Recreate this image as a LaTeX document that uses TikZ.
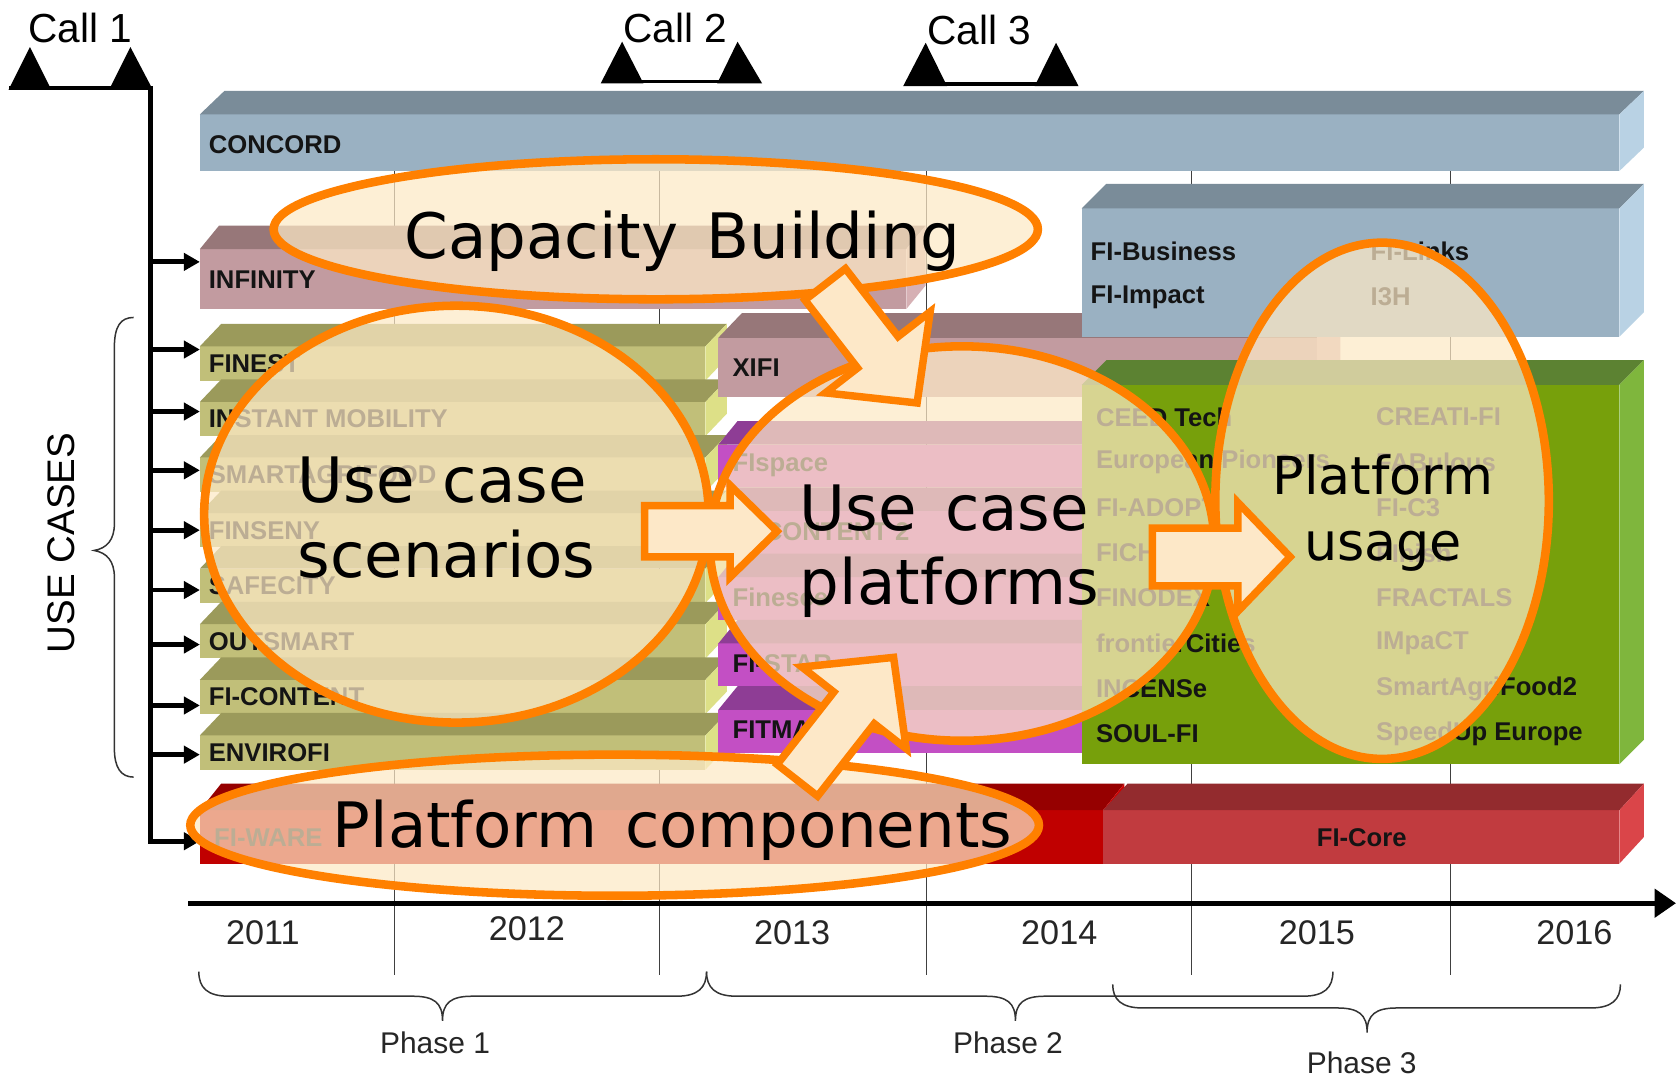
\documentclass[tikz,border=0pt]{standalone}
\usepackage{fontspec}
\setmainfont{Liberation Sans}
\newfontfamily\bigfont{DejaVu Sans}
\usetikzlibrary{calc,arrows.meta}
\definecolor{orng}{RGB}{255,128,0}
\definecolor{cream}{RGB}{253,233,198}
\definecolor{arrfill}{RGB}{253,232,200}
\definecolor{labc}{RGB}{20,20,20}
\definecolor{bluF}{RGB}{154,177,194}
\definecolor{bluT}{RGB}{122,140,153}
\definecolor{bluS}{RGB}{185,210,228}
\definecolor{mauF}{RGB}{194,155,160}
\definecolor{mauT}{RGB}{151,119,121}
\definecolor{mauS}{RGB}{214,176,180}
\definecolor{olvF}{RGB}{193,191,121}
\definecolor{olvT}{RGB}{155,154,91}
\definecolor{olvS}{RGB}{221,224,135}
\definecolor{magF}{RGB}{195,79,196}
\definecolor{magT}{RGB}{142,61,149}
\definecolor{magS}{RGB}{208,112,208}
\definecolor{grnF}{RGB}{119,160,11}
\definecolor{grnT}{RGB}{92,130,50}
\definecolor{grnS}{RGB}{127,182,61}
\definecolor{redF}{RGB}{192,0,0}
\definecolor{redT}{RGB}{150,0,0}
\definecolor{redS}{RGB}{208,0,0}
\definecolor{corF}{RGB}{193,59,63}
\definecolor{corT}{RGB}{147,43,46}
\definecolor{corS}{RGB}{218,69,73}
\newcommand\wsp{\spaceskip=0.45em\relax}
% 3D bar: x1, y1 (top of front), x2, y2 (bottom of front), dx, dy, front, top, side
\newcommand\tdbar[9]{%
  \fill[#7] (#1,#2) rectangle (#3,#4);
  \fill[#8] (#1,#2) -- (#1+#5,#2-#6) -- (#3+#5,#2-#6) -- (#3,#2) -- cycle;
  \fill[#9] (#3,#2) -- (#3+#5,#2-#6) -- (#3+#5,#4-#6) -- (#3,#4) -- cycle;}
% block arrow: tail, tip, shaft half width, head half width, head length
\newcommand\blk[5]{%
  \coordinate (bkB) at ($(#2)!#5!(#1)$);
  \draw[blockarr] ($(#1)!#3!90:(#2)$) -- ($(bkB)!#3!90:(#2)$) -- ($(bkB)!#4!90:(#2)$)
    -- (#2) -- ($(bkB)!#4!-90:(#2)$) -- ($(bkB)!#3!-90:(#2)$) -- ($(#1)!#3!-90:(#2)$) -- cycle;}
% horizontal brace: x1, x2, xtip, ytop, ybody, ytip
\newcommand\hbr[6]{%
  \draw[bracel] (#1,#4) .. controls (#1,#5-8) and (#1+8,#5) .. (#1+28,#5) -- (#3-28,#5)
    .. controls (#3-8,#5) and (#3,#5+6) .. (#3,#6)
    .. controls (#3,#5+6) and (#3+8,#5) .. (#3+28,#5) -- (#2-28,#5)
    .. controls (#2-8,#5) and (#2,#5-8) .. (#2,#4);}
\begin{document}
\begin{tikzpicture}[x=0.5pt,y=-0.5pt,
  lab/.style={font=\fontsize{12}{14}\selectfont\bfseries, text=labc, anchor=west, inner sep=0pt},
  big/.style={font=\bigfont\fontsize{29.3}{35}\selectfont, anchor=base west, inner sep=0pt},
  bigs/.style={font=\bigfont\fontsize{24.5}{30}\selectfont, anchor=base, inner sep=0pt},
  callf/.style={font=\fontsize{19}{19}\selectfont, anchor=base, inner sep=0pt},
  yearf/.style={font=\fontsize{16}{16}\selectfont, anchor=base, inner sep=0pt, text=black!85},
  phasef/.style={font=\fontsize{14}{14}\selectfont, anchor=base, inner sep=0pt, text=black!85},
  gridl/.style={draw=black!75, line width=0.6pt},
  bracel/.style={draw=black!80, line width=0.7pt},
  ovalfill/.style={fill=cream, fill opacity=0.72},
  ovalline/.style={draw=orng, line width=4pt},
  blockarr/.style={draw=orng, line width=3.5pt, fill=arrfill, line join=miter, miter limit=10},
  feed/.style={-{Triangle[length=7.5pt,width=8pt]}, line width=2.3pt, line join=miter},
  axisl/.style={-{Triangle[length=10pt,width=13pt]}, line width=2.5pt}]
\useasboundingbox (0,0) rectangle (1568,1008);
\fill[white] (0,0) rectangle (1568,1008);

% grid lines
\foreach \gx in {369,617,867,1115,1357} \draw[gridl] (\gx,160) -- (\gx,912);

% bars
\tdbar{187}{107}{1515}{160}{23}{22}{bluF}{bluT}{bluS}
\node[lab] (concord) at (195,135) {CONCORD};
\tdbar{187}{233}{848}{289}{18}{22}{mauF}{mauT}{mauS}
\node[lab] (infinity) at (195,262) {INFINITY};
\foreach \nm [count=\i from 0] in {FINEST,INSTANT MOBILITY,SMARTAGRIFOOD,FINSENY,SAFECITY,OUTSMART,FI-CONTENT,ENVIROFI}{
  \pgfmathsetmacro\ya{324+52*\i}
  \pgfmathsetmacro\yb{356+52*\i}
  \pgfmathsetmacro\yc{340+52*\i}
  \tdbar{187}{\ya}{660}{\yb}{20}{21}{olvF}{olvT}{olvS}
  \node[lab] (uc\i) at (195,\yc) {\nm};
}
\tdbar{672}{316}{1232}{371}{22}{23}{mauF}{mauT}{mauS}
\node[lab] (xifi) at (685,344) {XIFI};
\foreach \nm [count=\i from 0] in {FIspace,FI-CONTENT 2,Finesce,FI-STAR,FITMAN}{
  \pgfmathsetmacro\ya{416+62*\i}
  \pgfmathsetmacro\yb{456+62*\i}
  \pgfmathsetmacro\yc{435+62*\i}
  \tdbar{672}{\ya}{1030}{\yb}{18}{22}{magF}{magT}{magS}
  \node[lab] (pf\i) at (685,\yc) {\nm};
}
\tdbar{1012}{195}{1515}{315}{23}{23}{bluF}{bluT}{bluS}
\node[lab] (fibus) at (1020,235) {FI-Business};
\node[lab] (filinks) at (1282,235) {FI-Links};
\node[lab] (fiimp) at (1020,278) {FI-Impact};
\node[lab] (ithreeh) at (1282,278) {I3H};
\tdbar{1012}{360}{1515}{715}{23}{23}{grnF}{grnT}{grnS}
\foreach \a/\b [count=\i from 0] in {CEED Tech/CREATI-FI,European Pioneers/FABulous,FI-ADOPT/FI-C3,FICHe/FInish,FINODEX/FRACTALS,frontierCities/IMpaCT,INCENSe/SmartAgriFood2,SOUL-FI/SpeedUp Europe}{
  \pgfmathsetmacro\yc{390+42.4*\i}
  \node[lab] (gl\i) at (1025,\yc) {\a};
  \node[lab] (gr\i) at (1287,\yc) {\b};
}
\tdbar{187}{758}{1032}{808}{20}{25}{redF}{redT}{redS}
\node[lab] (fiware) at (200,784) {FI-WARE};
\tdbar{1032}{758}{1515}{808}{23}{25}{corF}{corT}{corS}
\node[lab, anchor=center] (ficore) at (1274,784) {FI-Core};

% axis, years, phases
\coordinate (ax0) at (176,845);
\coordinate (ax1) at (1568,845);
\draw[axisl] (ax0) -- (ax1);
\node[yearf] (y11) at (246,884) {2011};
\node[yearf] (y12) at (493,880) {2012};
\node[yearf] (y13) at (741,884) {2013};
\node[yearf] (y14) at (991,884) {2014};
\node[yearf] (y15) at (1232,884) {2015};
\node[yearf] (y16) at (1473,884) {2016};
\hbr{186}{661}{414}{909}{932}{955}
\hbr{661}{1247}{950}{909}{932}{955}
\hbr{1041}{1516}{1279}{921}{943}{966}
\node[phasef] (ph1) at (407,986) {Phase 1};
\node[phasef] (ph2) at (943,986) {Phase 2};
\node[phasef] (ph3) at (1274,1004) {Phase 3};

% calls
\node[callf] (call1) at (75,40) {Call 1};
\node[callf] (call2) at (632,40) {Call 2};
\node[callf] (call3) at (916,42) {Call 3};
\fill (8,84) -- (28,44) -- (48,84) -- cycle;
\fill (102,84) -- (122,44) -- (143,84) -- cycle;
\fill (8,80.5) rectangle (143,84);
\fill (562,78) -- (582,39) -- (602,78) -- cycle;
\fill (671,78) -- (690,39) -- (713,78) -- cycle;
\fill (582,74.5) rectangle (690,78);
\fill (845,80.5) -- (866,40) -- (886,80.5) -- cycle;
\fill (968,80.5) -- (988,40) -- (1009,80.5) -- cycle;
\fill (866,76.5) rectangle (988,80.5);

% bus and feeds
\coordinate (bus) at (140.5,80.5);
\foreach \yy [count=\i] in {245,327,385,440,496,552,603,660,706}{
  \coordinate (fd\i) at (187,\yy);
  \draw[feed] (bus|-fd\i) -- (fd\i);
}
\coordinate (fdw) at (187,787);
\draw[feed] (bus) -- (bus|-fdw) -- (fdw);

% use cases brace
\draw[bracel] (125,297) .. controls (113,297) and (107,305) .. (107,325) -- (107,490)
  .. controls (107,505) and (100,513) .. (88,515) .. controls (100,517) and (107,525) .. (107,540)
  -- (107,700) .. controls (107,718) and (113,727) .. (125,727);
\node[font=\fontsize{18}{18}\selectfont, rotate=90, inner sep=0pt] (usecases) at (57,508) {USE CASES};

% ovals
\coordinate (capc) at (613.5,214.5);
\coordinate (scenc) at (427,481);
\coordinate (platc) at (900,508.5);
\coordinate (usec) at (1293,468.5);
\coordinate (compc) at (575,772);
\fill[ovalfill] (capc) ellipse [x radius=178.75pt, y radius=32.75pt];
\fill[ovalfill] (scenc) ellipse [x radius=118pt, y radius=97.5pt];
\fill[ovalfill] (platc) ellipse [x radius=118pt, y radius=92.25pt];
\fill[ovalfill] (usec) ellipse [x radius=78pt, y radius=120.75pt];
\fill[ovalfill] (compc) ellipse [x radius=198.5pt, y radius=33pt];
\draw[ovalline] (capc) ellipse [x radius=178.75pt, y radius=32.75pt];
\draw[ovalline] (scenc) ellipse [x radius=118pt, y radius=97.5pt];
\draw[ovalline] (platc) ellipse [x radius=118pt, y radius=92.25pt];
\draw[ovalline] (usec) ellipse [x radius=78pt, y radius=120.75pt];
\draw[ovalline] (compc) ellipse [x radius=198.5pt, y radius=33pt];

\node[big] (tcap) at (378,242) {\wsp Capacity Building};
\node[big] (tscen1) at (278,470) {\wsp Use case};
\node[big] (tscen2) at (278,540) {scenarios};
\node[big] (tplat1) at (748,496) {\wsp Use case};
\node[big] (tplat2) at (748,566) {platforms};
\node[bigs] (tuse1) at (1294,463) {Platform};
\node[bigs] (tuse2) at (1294,524) {usage};
\node[big] (tcomp) at (311,793) {\wsp Platform components};

% block arrows
\coordinate (aT) at (772,266);  \coordinate (aH) at (858,377);
\coordinate (bT) at (603,497);  \coordinate (bH) at (727,497);
\coordinate (cT) at (1078,521); \coordinate (cH) at (1207,521);
\coordinate (dT) at (746,730);  \coordinate (dH) at (836,615);
\blk{aT}{aH}{12pt}{31pt}{30pt}
\blk{bT}{bH}{12pt}{21.5pt}{22pt}
\blk{cT}{cH}{13.5pt}{25.5pt}{24.5pt}
\blk{dT}{dH}{12pt}{31pt}{30pt}
\end{tikzpicture}
\end{document}
